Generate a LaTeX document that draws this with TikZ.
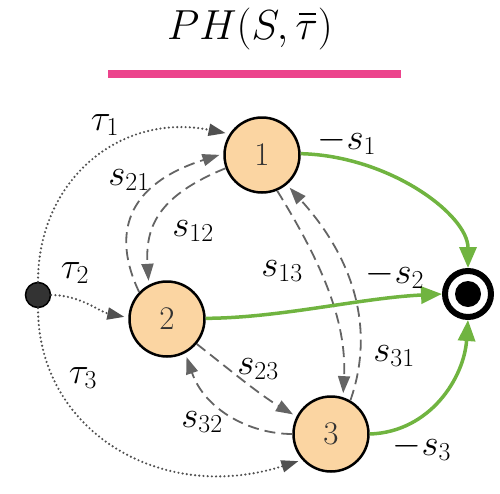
\RequirePackage{fix-cm}
\documentclass[tikz,border=0pt]{standalone}
\usetikzlibrary{arrows.meta}
\definecolor{nodefill}{RGB}{251,213,162}
\definecolor{edgegray}{RGB}{100,100,100}
\definecolor{dotgray}{RGB}{80,80,80}
\definecolor{gcol}{RGB}{112,180,64}
\definecolor{titlepink}{RGB}{236,68,140}
\definecolor{darktext}{RGB}{50,50,50}
\newcommand\taubar{\mbox{\rlap{\kern0.08em\rule[0.56em]{0.42em}{0.05em}}$\tau$}}
\begin{document}
\begin{tikzpicture}[x=1pt,y=-1pt,
  state/.style={circle, draw=black, line width=2.5pt, fill=nodefill, minimum size=75pt, inner sep=0pt, font=\fontsize{33}{38}\selectfont, text=darktext},
  lbl/.style={font=\fontsize{37}{44}\selectfont, inner sep=0pt},
  dashedge/.style={draw=edgegray, line width=1.8pt, dash pattern=on 11pt off 6pt, -{Triangle[length=17pt,width=12pt]}, shorten >=4pt},
  dotedge/.style={draw=dotgray, line width=2.4pt, line cap=round, dash pattern=on 0pt off 4.2pt, -{Triangle[length=17pt,width=12pt]}, shorten >=4pt},
  gedge/.style={draw=gcol, line width=3.5pt, -{Triangle[length=21pt,width=17pt]}},
]
\useasboundingbox (0,0) rectangle (500,493);
% title
\node[font=\fontsize{42}{50}\selectfont, inner sep=0pt, anchor=base] (title) at (250,39) {$PH(S,\taubar)$};
\draw[titlepink, line width=8pt] (108,74) -- (401,74);
% nodes
\node[state] (n1) at (262,155) {1};
\node[state] (n2) at (167,319) {2};
\node[state] (n3) at (331,434) {3};
\node[circle, draw=black, line width=6pt, minimum size=46pt, inner sep=0pt] (T) at (468,294) {};
\fill[black] (T.center) circle[radius=13pt];
\node[circle, draw=black, line width=1.5pt, fill=black!80, minimum size=25pt, inner sep=0pt] (src) at (38,295) {};
% dotted tau edges
\draw[dotedge] (src.north) .. controls (38,180) and (120,112) .. (n1.147);
\draw[dotedge] (src.east) .. controls (80,295) and (100,312) .. (n2.178);
\draw[dotedge] (src.south) .. controls (38,430) and (160,505) .. (n3.-138);
% dashed transitions
\draw[dashedge] (n2.136) .. controls (112,235) and (125,185) .. (n1.178);
\draw[dashedge] (n1.-160) .. controls (160,195) and (145,225) .. (n2.118);
\draw[dashedge] (n1.-67) .. controls (320,260) and (347,320) .. (n3.72);
\draw[dashedge] (n3.60) .. controls (375,330) and (355,260) .. (n1.-50);
\draw[dashedge] (n2.-40) .. controls (230,370) and (260,395) .. (n3.153);
\draw[dashedge] (n3.180) .. controls (250,434) and (205,410) .. (n2.-62);
% green exits
\draw[gedge] (n1.2) .. controls (390,156) and (468,215) .. (T.90);
\draw[gedge] (n2.1) .. controls (280,318) and (360,298) .. (T.180);
\draw[gedge] (n3.0) .. controls (430,432) and (464,378) .. (T.-90);
% labels
\node[lbl] (lt1) at (105,125) {$\tau_1$};
\node[lbl] (lt2) at (75,273) {$\tau_2$};
\node[lbl] (lt3) at (83,378) {$\tau_3$};
\node[lbl] (l21) at (129,180) {$s_{21}$};
\node[lbl] (l12) at (193,231) {$s_{12}$};
\node[lbl] (l13) at (282,271) {$s_{13}$};
\node[lbl] (l31) at (394,356) {$s_{31}$};
\node[lbl] (l23) at (258,369) {$s_{23}$};
\node[lbl] (l32) at (202,422) {$s_{32}$};
\node[lbl] (ls1) at (347,141) {$-s_1$};
\node[lbl] (ls2) at (395,275) {$-s_2$};
\node[lbl] (ls3) at (422,447) {$-s_3$};
\end{tikzpicture}
\end{document}
